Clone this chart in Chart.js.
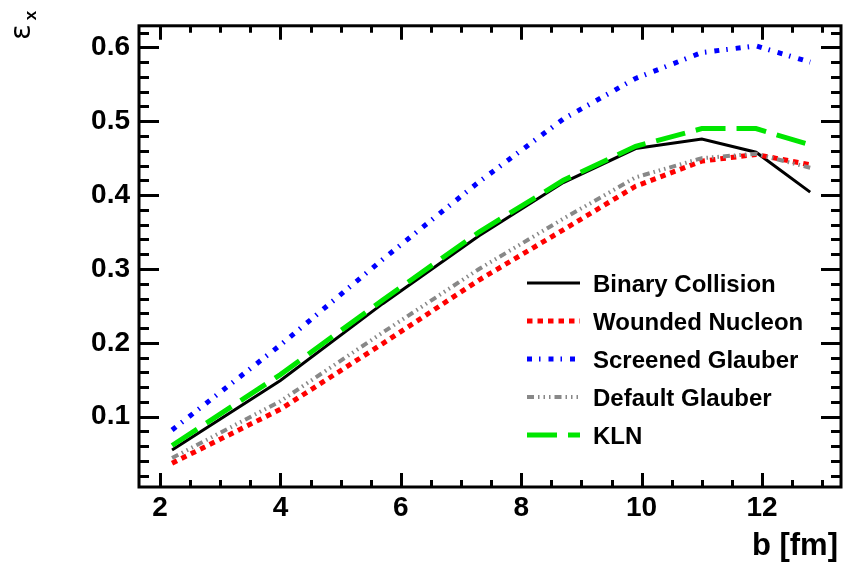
<!DOCTYPE html>
<html>
<head>
<meta charset="utf-8">
<script src="https://cdn.jsdelivr.net/npm/chart.js@4.4.0/dist/chart.umd.min.js"></script>
<style>
  html, body { margin: 0; padding: 0; background: #fff; }
</style>
</head>
<body>
<canvas id="epsChart" width="845" height="565"></canvas>
<script>
// impact parameter b [fm] and eccentricity for each model
const impactB = [2.2, 4.0, 5.7, 7.3, 8.7, 9.9, 11.0, 11.9, 12.8];
const binaryCollision = [0.055, 0.149, 0.253, 0.345, 0.417, 0.463, 0.476, 0.458, 0.404];
const woundedNucleon = [0.037, 0.110, 0.199, 0.285, 0.353, 0.412, 0.446, 0.455, 0.441];
const screenedGlauber = [0.082, 0.197, 0.313, 0.418, 0.503, 0.558, 0.593, 0.602, 0.580];
const defaultGlauber = [0.044, 0.121, 0.214, 0.300, 0.368, 0.424, 0.450, 0.456, 0.437];
const kln = [0.061, 0.157, 0.258, 0.350, 0.420, 0.466, 0.490, 0.490, 0.468];

const xTicks = [2, 4, 6, 8, 10, 12];
const yTicks = [0.1, 0.2, 0.3, 0.4, 0.5, 0.6];

const FONT = '"Liberation Sans", Arial, sans-serif';

function pts(vals) {
    return impactB.map((b, i) => ({ x: b, y: vals[i] }));
}

// frame, inner ticks and axis titles (ROOT style)
const framePlugin = {
    id: 'frame',
    afterDatasetsDraw(chart) {
        const ctx = chart.ctx;
        const a = chart.chartArea;
        const sx = chart.scales.x, sy = chart.scales.y;
        ctx.save();
        ctx.strokeStyle = '#000';
        ctx.lineWidth = 3;
        ctx.lineCap = 'butt';
        ctx.beginPath();
        for (let v = 1.5; v <= sx.max + 1e-9; v += 0.5) {
            if (v < sx.min) continue;
            const px = Math.round(sx.getPixelForValue(v)) + 0.5;
            const len = Math.abs(v % 2) < 1e-9 ? 14 : 7;
            ctx.moveTo(px, a.bottom); ctx.lineTo(px, a.bottom - len);
            ctx.moveTo(px, a.top); ctx.lineTo(px, a.top + len);
        }
        for (let k = 1; k <= 31; k++) {
            const v = k * 0.02;
            if (v < sy.min || v > sy.max) continue;
            const py = Math.round(sy.getPixelForValue(v)) + 0.5;
            const len = k % 5 === 0 ? 20 : 10;
            ctx.moveTo(a.left, py); ctx.lineTo(a.left + len, py);
            ctx.moveTo(a.right, py); ctx.lineTo(a.right - len, py);
        }
        ctx.stroke();
        ctx.strokeRect(a.left, a.top, a.right - a.left, a.bottom - a.top);

        // x title
        ctx.fillStyle = '#000';
        ctx.font = 'bold 31px ' + FONT;
        ctx.textAlign = 'right';
        ctx.textBaseline = 'alphabetic';
        ctx.fillText('b [fm]', 838, 555);

        // y title, rotated epsilon with subscript x
        ctx.translate(30, 40);
        ctx.rotate(-Math.PI / 2);
        ctx.textAlign = 'left';
        ctx.font = '29px "DejaVu Sans"';
        ctx.fillText('\u03b5', 0, 0);
        const w = ctx.measureText('\u03b5').width;
        ctx.font = 'bold 17px ' + FONT;
        ctx.fillText('x', w + 4, 6);
        ctx.restore();
    }
};

// legend inside the frame
const legendPlugin = {
    id: 'rootLegend',
    afterDraw(chart) {
        const ctx = chart.ctx;
        const rowTop = 283, rowStep = 38;
        ctx.save();
        chart.data.datasets.forEach((ds, i) => {
            const y = rowTop + i * rowStep;
            ctx.strokeStyle = ds.borderColor;
            ctx.lineWidth = ds.borderWidth;
            ctx.lineCap = 'butt';
            ctx.setLineDash(ds.borderDash || []);
            ctx.beginPath();
            ctx.moveTo(527, y);
            ctx.lineTo(580, y);
            ctx.stroke();
            ctx.setLineDash([]);
            ctx.fillStyle = '#000';
            ctx.font = 'bold 24px ' + FONT;
            ctx.textAlign = 'left';
            ctx.textBaseline = 'alphabetic';
            ctx.fillText(ds.label, 593, y + 8.5);
        });
        ctx.restore();
    }
};

const ctx = document.getElementById('epsChart').getContext('2d');

new Chart(ctx, {
    type: 'line',
    data: {
        datasets: [
            { label: 'Binary Collision', data: pts(binaryCollision), borderColor: '#000000', borderWidth: 3, borderDash: [], order: 5 },
            { label: 'Wounded Nucleon', data: pts(woundedNucleon), borderColor: '#ff0000', borderWidth: 5, borderDash: [5.5, 5], order: 4 },
            { label: 'Screened Glauber', data: pts(screenedGlauber), borderColor: '#0000ff', borderWidth: 5, borderDash: [5, 7, 1.5, 8], order: 3 },
            { label: 'Default Glauber', data: pts(defaultGlauber), borderColor: '#888888', borderWidth: 4, borderDash: [7, 4, 1.5, 4, 1.5, 4, 1.5, 4], order: 2 },
            { label: 'KLN', data: pts(kln), borderColor: '#00e600', borderWidth: 5, borderDash: [30, 11], order: 1 }
        ]
    },
    options: {
        responsive: false,
        animation: false,
        devicePixelRatio: 1,
        layout: { padding: { top: 10, right: 4, left: 0, bottom: 0 } },
        elements: {
            point: { radius: 0, hoverRadius: 0 },
            line: { tension: 0, fill: false, borderCapStyle: 'butt' }
        },
        plugins: {
            legend: { display: false },
            tooltip: { enabled: false }
        },
        scales: {
            x: {
                type: 'linear',
                min: 1.651,
                max: 13.312,
                grid: { display: false, drawTicks: false },
                border: { display: false },
                afterBuildTicks: s => { s.ticks = xTicks.map(v => ({ value: v })); },
                afterFit: s => { s.height = 78; },
                ticks: {
                    autoSkip: false,
                    maxRotation: 0,
                    padding: 4,
                    color: '#000',
                    font: { family: FONT, size: 28, weight: 'bold' }
                }
            },
            y: {
                type: 'linear',
                min: 0.0048,
                max: 0.6292,
                grid: { display: false, drawTicks: false },
                border: { display: false },
                afterBuildTicks: s => { s.ticks = yTicks.map(v => ({ value: v })); },
                afterFit: s => { s.width = 139; },
                ticks: {
                    padding: 9,
                    color: '#000',
                    font: { family: FONT, size: 28, weight: 'bold' },
                    callback: v => v.toFixed(1)
                }
            }
        }
    },
    plugins: [framePlugin, legendPlugin]
});
</script>
</body>
</html>
